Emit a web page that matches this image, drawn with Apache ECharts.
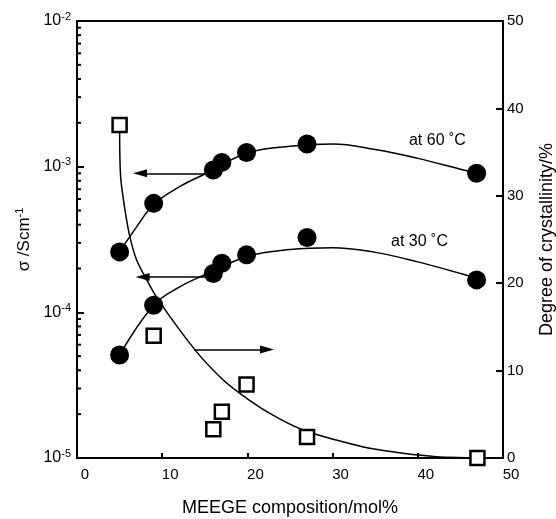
<!DOCTYPE html>
<html>
<head>
<meta charset="utf-8">
<script src="https://cdn.jsdelivr.net/npm/echarts@6/dist/echarts.min.js"></script>
<style>html,body{margin:0;padding:0;background:#fff}#c{width:556px;height:519px}</style>
</head>
<body>
<div id="c"></div>
<script>
// ---- data ----
const comp = [5.0, 9.0, 16.0, 17.0, 19.9, 27.0, 46.9];
const sigma60 = [2.6e-4, 5.6e-4, 9.5e-4, 1.07e-3, 1.25e-3, 1.43e-3, 9.0e-4];
const sigma30 = [5.1e-5, 1.12e-4, 1.85e-4, 2.17e-4, 2.48e-4, 3.26e-4, 1.67e-4];
const crystX = [5.0, 9.0, 16.0, 17.0, 19.9, 27.0, 47.0];
const crystY = [38.1, 14.0, 3.3, 5.3, 8.4, 2.4, 0.0];

// fitted curves
const fit60X = [5.0, 7.0, 9.0, 12.0, 15.0, 20.0, 25.0, 30.0, 35.0, 40.0, 45.0, 46.9];
const fit60Y = [2.6e-4, 3.86e-4, 5.5e-4, 7.26e-4, 8.9e-4, 1.24e-3, 1.38e-3, 1.43e-3, 1.31e-3, 1.14e-3, 9.6e-4, 9.0e-4];
const fit30X = [5.0, 9.0, 12.0, 15.0, 20.0, 25.0, 30.0, 35.0, 40.0, 45.0, 46.9];
const fit30Y = [5.1e-5, 1.12e-4, 1.49e-4, 1.81e-4, 2.42e-4, 2.70e-4, 2.78e-4, 2.58e-4, 2.22e-4, 1.85e-4, 1.72e-4];
const fitCX = [5.0, 5.12, 5.63, 6.21, 7.0, 8.17, 9.53, 13.83, 16.76, 19.11, 22.63, 26.53, 30.44, 34.35, 38.25, 42.17, 46.07, 47.0];
const fitCY = [38.1, 32.2, 28.4, 25.3, 22.65, 20.4, 18.1, 12.4, 9.3, 7.4, 5.1, 3.2, 2.06, 1.11, 0.54, 0.15, 0.03, 0.0];

// arrows: [fromX, toX, y]
const arrow60 = [16.0, 7.4, 9.0e-4];
const arrow30 = [16.0, 7.7, 1.75e-4];
const arrowCryst = [13.8, 22.3, 12.4];

// annotation labels
const labelTexts = ['at 60 ˚C', 'at 30 ˚C'];
const labelX = [42.3, 40.2];
const labelY = [1.5e-3, 3.04e-4];

// axes
const xMin = 0, xMax = 50, xStep = 10;
const yMin = 1e-5, yMax = 1e-2;
const y2Min = 0, y2Max = 50, y2Step = 10;
const minorTickValues = [2e-5,3e-5,4e-5,5e-5,6e-5,7e-5,8e-5,9e-5,
                         2e-4,3e-4,4e-4,5e-4,6e-4,7e-4,8e-4,9e-4,
                         2e-3,3e-3,4e-3,5e-3,6e-3,7e-3,8e-3,9e-3];

const zip = (a, b) => a.map((v, i) => [v, b[i]]);
const FONT = 'Liberation Sans';

const chart = echarts.init(document.getElementById('c'), null, {renderer: 'canvas'});

function arrowMark(a) {
  return [[{coord: [a[0], a[2]]}, {coord: [a[1], a[2]]}]];
}

const option = {
  backgroundColor: '#fff',
  animation: false,
  textStyle: {fontFamily: FONT, color: '#000'},
  grid: {left: 77, right: 53, top: 21, bottom: 61, outerBoundsMode: 'none', containLabel: false,
    show: true, borderColor: '#000', borderWidth: 2, backgroundColor: 'transparent'},
  xAxis: {
    type: 'value', min: xMin, max: xMax, interval: xStep,
    name: 'MEEGE composition/mol%', nameLocation: 'middle', nameGap: 41,
    nameTextStyle: {fontSize: 18, color: '#000', fontFamily: FONT},
    axisLine: {lineStyle: {color: '#000', width: 2}},
    axisTick: {inside: true, length: 5, lineStyle: {color: '#000', width: 2}},
    axisLabel: {fontSize: 15, color: '#000', margin: 9, padding: [0, 0, 0, 16], fontFamily: FONT},
    splitLine: {show: false}
  },
  yAxis: [{
    type: 'log', logBase: 10, min: yMin, max: yMax,
    name: '{n|σ /Scm}{s|-1}', nameLocation: 'middle', nameGap: 34, nameRotate: 90,
    nameTextStyle: {fontSize: 17, color: '#000', fontFamily: FONT,
      rich: {n: {fontSize: 17, fontFamily: FONT, color: '#000'}, s: {fontSize: 11, fontFamily: FONT, color: '#000', verticalAlign: 'top', padding: [0, 0, 8, 0]}}},
    axisLine: {show: true, lineStyle: {color: '#000', width: 2}},
    axisTick: {inside: true, length: 7, lineStyle: {color: '#000', width: 2}},
    axisLabel: {
      color: '#000', margin: 6,
      formatter: function (v) { const e = Math.round(Math.log10(v)); return '{b|10}{s|' + e + '}'; },
      rich: {b: {fontSize: 16, fontFamily: FONT, color: '#000'}, s: {fontSize: 11, fontFamily: FONT, color: '#000', padding: [0, 0, 9, 0]}}
    },
    splitLine: {show: false}
  }, {
    type: 'value', min: y2Min, max: y2Max, interval: y2Step, position: 'right',
    name: 'Degree of crystallinity/%', nameLocation: 'middle', nameGap: 35, nameRotate: 90,
    nameTextStyle: {fontSize: 18, color: '#000', fontFamily: FONT},
    axisLine: {show: true, lineStyle: {color: '#000', width: 2}},
    axisTick: {inside: true, length: 7, lineStyle: {color: '#000', width: 2}},
    axisLabel: {fontSize: 15, color: '#000', margin: 4, fontFamily: FONT},
    splitLine: {show: false}
  }],
  series: [
    {
      type: 'custom', name: 'minorTicks', yAxisIndex: 0, silent: true, clip: false,
      data: minorTickValues.map(v => [xMin, v]),
      renderItem: function (params, api) {
        const p = api.coord([api.value(0), api.value(1)]);
        return {type: 'line', shape: {x1: p[0], y1: p[1], x2: p[0] + 4, y2: p[1]}, style: {stroke: '#000', lineWidth: 2}};
      }
    },
    {type: 'line', yAxisIndex: 0, data: zip(fit60X, fit60Y), smooth: 0.4, symbol: 'none', lineStyle: {color: '#000', width: 1.5}, silent: true,
      markLine: {silent: true, symbol: ['none', 'triangle'], symbolSize: [8, 14], label: {show: false},
        lineStyle: {color: '#000', width: 1.5, type: 'solid'}, data: arrowMark(arrow60)}},
    {type: 'line', yAxisIndex: 0, data: zip(fit30X, fit30Y), smooth: 0.4, symbol: 'none', lineStyle: {color: '#000', width: 1.5}, silent: true,
      markLine: {silent: true, symbol: ['none', 'triangle'], symbolSize: [8, 14], label: {show: false},
        lineStyle: {color: '#000', width: 1.5, type: 'solid'}, data: arrowMark(arrow30)}},
    {type: 'line', yAxisIndex: 1, data: zip(fitCX, fitCY), smooth: 0.3, symbol: 'none', lineStyle: {color: '#000', width: 1.5}, silent: true,
      markLine: {silent: true, symbol: ['none', 'triangle'], symbolSize: [8, 14], label: {show: false},
        lineStyle: {color: '#000', width: 1.5, type: 'solid'}, data: arrowMark(arrowCryst)}},
    {type: 'scatter', yAxisIndex: 0, data: zip(comp, sigma60), symbol: 'circle', symbolSize: 19, itemStyle: {color: '#000', opacity: 1}, z: 5},
    {type: 'scatter', yAxisIndex: 0, data: zip(comp, sigma30), symbol: 'circle', symbolSize: 19, itemStyle: {color: '#000', opacity: 1}, z: 5},
    {type: 'scatter', yAxisIndex: 1, data: zip(crystX, crystY), symbol: 'rect', symbolSize: 14, clip: false,
      itemStyle: {color: '#fff', borderColor: '#000', borderWidth: 2.5, opacity: 1}, z: 6},
    {type: 'scatter', yAxisIndex: 0, symbolSize: 0, silent: true,
      itemStyle: {opacity: 1},
      data: labelTexts.map((t, i) => ({value: [labelX[i], labelY[i]], name: t})),
      label: {show: true, position: 'inside', formatter: p => p.name, fontSize: 16, color: '#000', fontFamily: FONT}}
  ]
};
chart.setOption(option);
</script>
</body>
</html>
